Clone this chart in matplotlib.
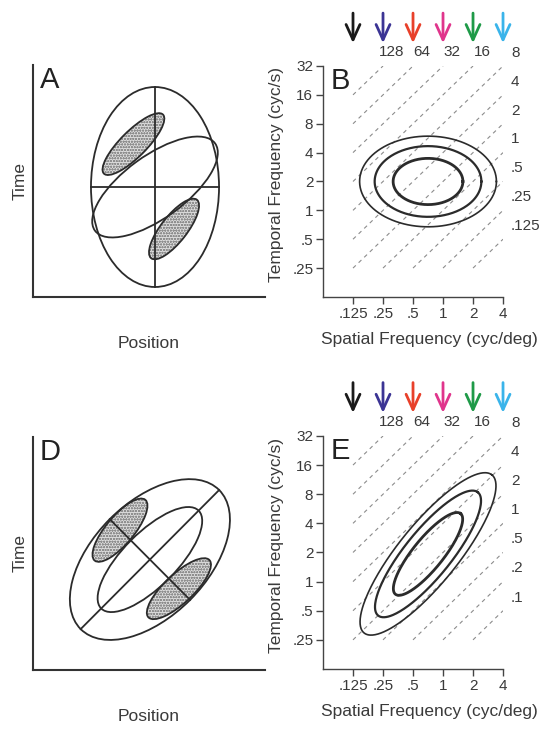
import numpy as np
import matplotlib
matplotlib.use("Agg")
import matplotlib.pyplot as plt
from matplotlib.patches import Ellipse, Rectangle

plt.rcParams['font.family'] = ['Liberation Sans', 'DejaVu Sans']
plt.rcParams['hatch.linewidth'] = 0.6

ink = '#2b2b2b'
txt = '#3a3a3a'

# ---- data ----
sf_ticks = [0.125, 0.25, 0.5, 1, 2, 4]
sf_labels = ['.125', '.25', '.5', '1', '2', '4']
tf_ticks = [0.25, 0.5, 1, 2, 4, 8, 16, 32]
tf_labels = ['.25', '.5', '1', '2', '4', '8', '16', '32']
speeds = [128, 64, 32, 16, 8, 4, 2, 1, 0.5, 0.25, 0.125]
speed_labels = ['128', '64', '32', '16', '8', '4', '2', '1', '.5', '.25', '.125']
arrow_colors = ['#1a1a1a', '#3b3494', '#e8402a', '#e0358c', '#1f9a48', '#3ab4ea']

# spectral contours (log2 units): center x, center y, semi-axis a, semi-axis b, angle
spec_B = [-0.5, 1.0, 2.28, 1.57, 0]
spec_E = [-0.5, 0.95, 3.45, 1.0, 52]
contour_scale = [1.0, 0.78, 0.51]
contour_lw = [1.2, 1.6, 2.0]

# space-time sketches: (x, y, width, height, angle) in panel units 0..10
A_outer = (5.26, 4.74, 5.52, 8.62, 0)
A_tilt = (5.26, 4.74, 6.4, 2.7, 36)
A_shaded = [(4.33, 6.59, 3.6, 1.12, 45), (6.08, 2.93, 3.2, 1.12, 52)]
D_outer = (5.04, 4.74, 8.44, 4.9, 45)
D_inner = (5.04, 4.74, 5.94, 2.32, 45)
D_shaded = [(3.75, 6.0, 3.4, 1.2, 50), (6.29, 3.49, 3.6, 1.24, 43)]

fig = plt.figure(figsize=(5.47, 7.30), dpi=100)


def sketch_axes(rect, letter):
    ax = fig.add_axes(rect)
    ax.set_xlim(0, 10)
    ax.set_ylim(0, 10)
    for s in ['top', 'right']:
        ax.spines[s].set_visible(False)
    for s in ['left', 'bottom']:
        ax.spines[s].set_linewidth(1.5)
        ax.spines[s].set_color('#333333')
    ax.set_xticks([])
    ax.set_yticks([])
    ax.set_xlabel('Position', fontsize=12.5, color=txt, labelpad=28)
    ax.set_ylabel('Time', fontsize=12.5, color=txt, labelpad=4)
    ax.text(0.03, 0.995, letter, transform=ax.transAxes, fontsize=21,
            va='top', ha='left', color='#222222')
    return ax


def ell(ax, p, lw=1.3):
    ax.add_patch(Ellipse((p[0], p[1]), p[2], p[3], angle=p[4],
                         facecolor='none', edgecolor=ink, lw=lw, zorder=3))


def shaded(ax, p):
    ax.add_patch(Ellipse((p[0], p[1]), p[2], p[3], angle=p[4],
                         facecolor='#dcdcdc', edgecolor='#8f8f8f', lw=0,
                         hatch='oooooo', zorder=2))
    ell(ax, p, lw=1.3)


def axis_line(ax, p, ang, half):
    t = np.deg2rad(ang)
    ax.plot([p[0] - half * np.cos(t), p[0] + half * np.cos(t)],
            [p[1] - half * np.sin(t), p[1] + half * np.sin(t)],
            color=ink, lw=1.3, zorder=3)


# panel A
axA = sketch_axes([0.0603, 0.5932, 0.4241, 0.3178], 'A')
for p in A_shaded:
    shaded(axA, p)
ell(axA, A_outer)
ell(axA, A_tilt)
axis_line(axA, A_outer, 90, A_outer[3] / 2)
axis_line(axA, A_outer, 0, A_outer[2] / 2)

# panel D
axD = sketch_axes([0.0603, 0.0822, 0.4241, 0.3192], 'D')
for p in D_shaded:
    shaded(axD, p)
ell(axD, D_outer)
ell(axD, D_inner)
axis_line(axD, D_outer, 45, D_outer[2] / 2)
axis_line(axD, D_outer, 135, D_outer[3] / 2)


def spectrum_axes(rect, letter, spec):
    ax = fig.add_axes(rect)
    ax.set_xscale('log', base=2)
    ax.set_yscale('log', base=2)
    ax.set_xlim(2 ** -4, 4)
    ax.set_ylim(2 ** -3, 32)
    ax.set_xticks(sf_ticks)
    ax.set_xticklabels(sf_labels)
    ax.set_yticks(tf_ticks)
    ax.set_yticklabels(tf_labels)
    ax.minorticks_off()
    for s in ['top', 'right']:
        ax.spines[s].set_visible(False)
    for s in ['left', 'bottom']:
        ax.spines[s].set_linewidth(1.0)
        ax.spines[s].set_color('#444444')
    ax.tick_params(direction='out', length=5, width=1, color='#444444',
                   labelsize=11, labelcolor=txt, pad=2)
    ax.set_xlabel('Spatial Frequency (cyc/deg)', fontsize=12.5, color=txt)
    ax.xaxis.set_label_coords(0.589, -0.15)
    ax.set_ylabel('Temporal Frequency (cyc/s)', fontsize=12.5, color=txt)
    ax.yaxis.set_label_coords(-0.215, 0.53)
    ax.text(0.04, 0.996, letter, transform=ax.transAxes, fontsize=21,
            va='top', ha='left', color='#222222')

    # iso-speed lines
    for v, lab in zip(speeds, speed_labels):
        x0 = max(0.125, 0.25 / v)
        x1 = min(4, 32 / v)
        ax.plot([x0, x1], [v * x0, v * x1], ls=(0, (3.5, 3.5)), color='#8c8c8c',
                lw=0.8, zorder=1)
        if v > 8:
            ax.annotate(lab, (x1, v * x1), xytext=(6.5, 10),
                        textcoords='offset points', ha='center', va='center',
                        fontsize=11, color=txt, annotation_clip=False)
        else:
            ax.annotate(lab, (x1, v * x1), xytext=(5.8, 9.5),
                        textcoords='offset points', ha='left', va='center',
                        fontsize=11, color=txt, annotation_clip=False)

    # arrows over spatial-frequency ticks
    for sf, c in zip(sf_ticks, arrow_colors):
        ax.annotate('', xy=(sf, 1.099), xytext=(sf, 1.229),
                    xycoords=ax.get_xaxis_transform(),
                    arrowprops=dict(arrowstyle='->,head_length=1.1,head_width=0.5',
                                    color=c, lw=2.0, mutation_scale=10,
                                    shrinkA=0, shrinkB=0),
                    annotation_clip=False)

    # response contours
    t = np.linspace(0, 2 * np.pi, 300)
    th = np.deg2rad(spec[4])
    for k, lw in zip(contour_scale, contour_lw):
        u = spec[2] * k * np.cos(t)
        w = spec[3] * k * np.sin(t)
        lx = spec[0] + u * np.cos(th) - w * np.sin(th)
        ly = spec[1] + u * np.sin(th) + w * np.cos(th)
        ax.plot(2 ** lx, 2 ** ly, color=ink, lw=lw, zorder=3)
    return ax


axB = spectrum_axes([0.5905, 0.5932, 0.3291, 0.3164], 'B', spec_B)
axE = spectrum_axes([0.5905, 0.0836, 0.3291, 0.3192], 'E', spec_E)

# right edge of the lower panel is cropped in the original figure
fig.add_artist(Rectangle((0.956, 0.110), 0.05, 0.167, transform=fig.transFigure,
                         facecolor='white', edgecolor='none', zorder=10))

fig.savefig('out.png', dpi=100)
